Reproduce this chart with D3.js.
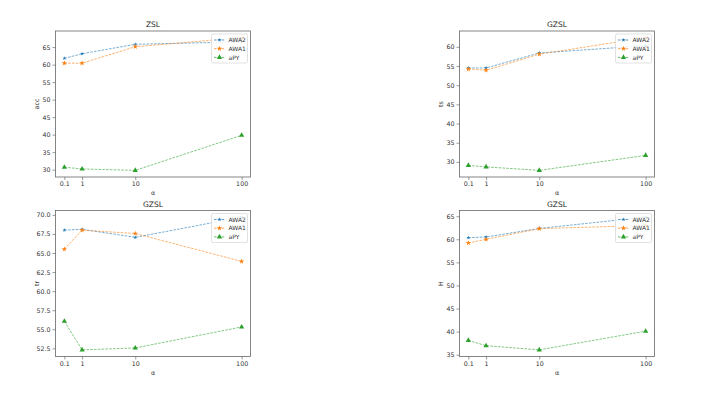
<!DOCTYPE html>
<html>
<head>
<meta charset="utf-8">
<script src="https://cdn.jsdelivr.net/npm/d3@7"></script>
<style>
  body { margin: 0; background: #fff; }
  svg { font-family: "DejaVu Sans", sans-serif; }
</style>
</head>
<body>
<script>
// alpha values: x slot used in the plot and the tick label shown
var alphaX = [0, 1, 4, 10];
var alphaLabels = ["0.1", "1", "10", "100"];
var seriesNames = ["AWA2", "AWA1", "aPY"];

// ZSL acc
var accAWA2 = [61.8, 63.1, 65.8, 66.5];
var accAWA1 = [60.4, 60.4, 65.1, 67.7];
var accAPY  = [30.7, 30.2, 29.8, 39.8];
// GZSL ts
var tsAWA2 = [54.5, 54.5, 58.4, 60.3];
var tsAWA1 = [54.2, 53.9, 58.1, 62.4];
var tsAPY  = [29.1, 28.7, 27.8, 31.7];
// GZSL tr
var trAWA2 = [68.0, 68.1, 67.05, 69.7];
var trAWA1 = [65.5, 68.0, 67.55, 63.9];
var trAPY  = [56.05, 52.3, 52.55, 55.3];
// GZSL H
var hAWA2 = [60.35, 60.5, 62.35, 64.8];
var hAWA1 = [59.2, 60.0, 62.3, 63.0];
var hAPY  = [38.1, 36.95, 36.05, 40.1];

var accTicks = [30, 35, 40, 45, 50, 55, 60, 65];
var tsTicks  = [30, 35, 40, 45, 50, 55, 60];
var trTicks  = [52.5, 55.0, 57.5, 60.0, 62.5, 65.0, 67.5, 70.0];
var hTicks   = [35, 40, 45, 50, 55, 60, 65];

var colors = ["#1f77b4", "#ff7f0e", "#2ca02c"];
var symbols = [d3.symbolStar, d3.symbolStar, d3.symbolTriangle];
var symSizes = [5, 9, 12];

var panels = [
  {title: "ZSL",  ylab: "acc", data: [accAWA2, accAWA1, accAPY], ticks: accTicks, fmt: d3.format("d"),   left: 55.5, top: 31},
  {title: "GZSL", ylab: "ts",  data: [tsAWA2, tsAWA1, tsAPY],    ticks: tsTicks,  fmt: d3.format("d"),   left: 459.5, top: 31},
  {title: "GZSL", ylab: "tr",  data: [trAWA2, trAWA1, trAPY],    ticks: trTicks,  fmt: d3.format(".1f"), left: 55.5, top: 210.5},
  {title: "GZSL", ylab: "H",   data: [hAWA2, hAWA1, hAPY],       ticks: hTicks,   fmt: d3.format("d"),   left: 459.5, top: 210.5}
];
var pw = 195, ph = 146;

var svg = d3.select("body").append("svg")
    .attr("width", 706)
    .attr("height", 399);

panels.forEach(function(p) {
  var g = svg.append("g")
      .attr("transform", "translate(" + p.left + "," + p.top + ")");

  // x: linear over the slots with matplotlib-like 5% margins
  var x = d3.scaleLinear().domain([-0.5, 10.5]).range([0, pw]);
  var all = d3.merge(p.data);
  var lo = d3.min(all), hi = d3.max(all), pad = (hi - lo) * 0.05;
  var y = d3.scaleLinear().domain([lo - pad, hi + pad]).range([ph, 0]);

  // axes
  var xa = g.append("g")
      .attr("transform", "translate(0," + ph + ")")
      .call(d3.axisBottom(x).tickValues(alphaX)
        .tickFormat(function(d, i) { return alphaLabels[i]; })
        .tickSize(3).tickPadding(2));
  var ya = g.append("g")
      .call(d3.axisLeft(y).tickValues(p.ticks).tickFormat(p.fmt)
        .tickSize(3).tickPadding(2));
  [xa, ya].forEach(function(a) {
    a.select(".domain").remove();
    a.selectAll("line").attr("stroke", "#555").attr("stroke-width", 0.6);
    a.selectAll("text").attr("font-size", 6.3).attr("fill", "#333")
      .attr("font-family", "DejaVu Sans");
  });

  // lines and markers
  p.data.forEach(function(vals, si) {
    var pts = vals.map(function(v, i) { return [alphaX[i], v]; });
    g.append("path")
        .datum(pts)
        .attr("fill", "none")
        .attr("stroke", colors[si])
        .attr("stroke-width", 0.7)
        .attr("stroke-opacity", 0.85)
        .attr("stroke-dasharray", "2.6,1.2")
        .attr("d", d3.line()
          .x(function(d) { return x(d[0]); })
          .y(function(d) { return y(d[1]); }));
    g.selectAll(null)
        .data(pts)
        .enter()
        .append("path")
        .attr("transform", function(d) { return "translate(" + x(d[0]) + "," + y(d[1]) + ")"; })
        .attr("d", d3.symbol().type(symbols[si]).size(symSizes[si]))
        .attr("fill", colors[si]);
  });

  // frame
  g.append("rect")
      .attr("width", pw).attr("height", ph)
      .attr("fill", "none").attr("stroke", "#666").attr("stroke-width", 0.8);

  // title and labels
  g.append("text")
      .attr("x", pw / 2).attr("y", -4)
      .attr("text-anchor", "middle")
      .attr("font-size", 7.5).attr("fill", "#222")
      .text(p.title);
  g.append("text")
      .attr("x", pw / 2).attr("y", ph + 18)
      .attr("text-anchor", "middle")
      .attr("font-size", 6.3).attr("fill", "#333")
      .text("α");
  g.append("text")
      .attr("transform", "rotate(-90)")
      .attr("x", -ph / 2).attr("y", -17)
      .attr("text-anchor", "middle")
      .attr("font-size", 6.3).attr("fill", "#333")
      .text(p.ylab);

  // legend
  var lg = g.append("g").attr("transform", "translate(" + (pw - 39) + ",3)");
  lg.append("rect")
      .attr("width", 36).attr("height", 29)
      .attr("rx", 1.5)
      .attr("fill", "#fff").attr("fill-opacity", 0.85)
      .attr("stroke", "#ccc").attr("stroke-width", 0.6);
  seriesNames.forEach(function(name, si) {
    var yy = 6 + si * 8.7;
    lg.append("line")
        .attr("x1", 2.5).attr("x2", 13.5).attr("y1", yy).attr("y2", yy)
        .attr("stroke", colors[si]).attr("stroke-width", 0.7)
        .attr("stroke-dasharray", "2.6,1.2");
    lg.append("path")
        .attr("transform", "translate(8," + yy + ")")
        .attr("d", d3.symbol().type(symbols[si]).size(symSizes[si]))
        .attr("fill", colors[si]);
    lg.append("text")
        .attr("x", 17).attr("y", yy + 2.2)
        .attr("font-size", 6).attr("fill", "#333")
        .text(name);
  });
});
</script>
</body>
</html>
